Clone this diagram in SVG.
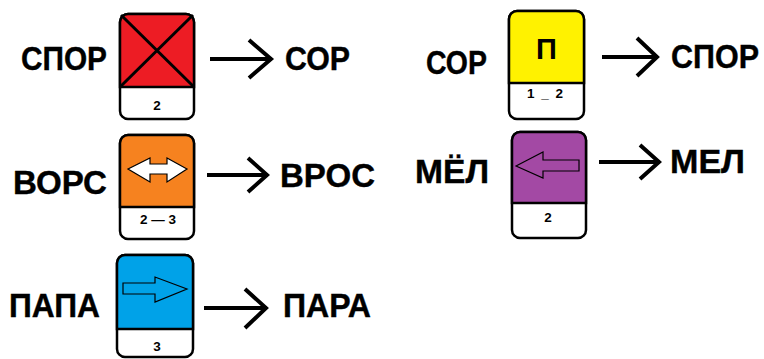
<svg xmlns="http://www.w3.org/2000/svg" width="764" height="359" viewBox="0 0 764 359">
<style>
  .w { font-family: "Liberation Sans", Arial, sans-serif; font-weight: bold; font-size: 33px; fill: #000; stroke: #000; stroke-width: 0.4; }
  .n { font-family: "Liberation Sans", Arial, sans-serif; font-weight: bold; font-size: 13.5px; fill: #000; text-anchor: middle; }
  .card { fill: #fff; stroke: #000; stroke-width: 2.5; }
  .sym { stroke: #000; stroke-width: 1.2; stroke-linejoin: miter; }
  .conn { fill: none; stroke: #000; stroke-width: 4; stroke-linejoin: miter; stroke-linecap: butt; }
</style>
<rect width="764" height="359" fill="#fff"/>

<g id="row1">
  <text class="w" x="21" y="70" textLength="86" lengthAdjust="spacingAndGlyphs">СПОР</text>
  <g id="card1">
    <rect class="card" x="120" y="14" width="74" height="105" rx="8"/>
    <path d="M120,87 V22 A8,8 0 0 1 128,14 H186 A8,8 0 0 1 194,22 V87 Z" fill="#ED1C24" stroke="#000" stroke-width="2.5"/>
    <line x1="121" y1="15" x2="193" y2="86" stroke="#000" stroke-width="3"/>
    <line x1="193" y1="15" x2="121" y2="86" stroke="#000" stroke-width="3"/>
    <text class="n" x="157" y="110">2</text>
  </g>
  <text class="w" x="285" y="70" textLength="65" lengthAdjust="spacingAndGlyphs">СОР</text>
</g>

<g id="row2">
  <text class="w" x="13" y="194" textLength="94" lengthAdjust="spacingAndGlyphs">ВОРС</text>
  <g id="card2">
    <rect class="card" x="120" y="135" width="74" height="104" rx="8"/>
    <path d="M120,207 V143 A8,8 0 0 1 128,135 H186 A8,8 0 0 1 194,143 V207 Z" fill="#F6821F" stroke="#000" stroke-width="2.5"/>
    <path class="sym" fill="#fff" d="M128,169 L150,158 L150,164 L167,164 L167,158 L187,169 L167,182 L167,174 L150,174 L150,182 Z"/>
    <text class="n" x="158" y="224">2 — 3</text>
  </g>
  <text class="w" x="280" y="187" textLength="95" lengthAdjust="spacingAndGlyphs">ВРОС</text>
</g>

<g id="row3">
  <text class="w" x="9" y="317" textLength="91" lengthAdjust="spacingAndGlyphs">ПАПА</text>
  <g id="card3">
    <rect class="card" x="117" y="255" width="76" height="102" rx="8"/>
    <path d="M117,329 V263 A8,8 0 0 1 125,255 H185 A8,8 0 0 1 193,263 V329 Z" fill="#00A2E8" stroke="#000" stroke-width="2.5"/>
    <path class="sym" fill="#00A2E8" d="M123,283 L155,283 L155,277 L187,289 L155,302 L155,294 L123,294 Z"/>
    <text class="n" x="157" y="351">3</text>
  </g>
  <text class="w" x="283" y="317" textLength="88" lengthAdjust="spacingAndGlyphs">ПАРА</text>
</g>

<g id="row4">
  <text class="w" x="426" y="74" textLength="61" lengthAdjust="spacingAndGlyphs">СОР</text>
  <g id="card4">
    <rect class="card" x="509" y="11" width="75" height="108" rx="8"/>
    <path d="M509,83 V19 A8,8 0 0 1 517,11 H576 A8,8 0 0 1 584,19 V83 Z" fill="#FFF200" stroke="#000" stroke-width="2.5"/>
    <text x="546.5" y="59" font-family="Liberation Sans, Arial, sans-serif" font-weight="bold" font-size="29" text-anchor="middle">П</text>
    <text class="n" x="545" y="98" textLength="36">1 _ 2</text>
  </g>
  <text class="w" x="671" y="68" textLength="88" lengthAdjust="spacingAndGlyphs">СПОР</text>
</g>

<g id="row5">
  <text class="w" x="415" y="183" textLength="74" lengthAdjust="spacingAndGlyphs">МЁЛ</text>
  <g id="card5">
    <rect class="card" x="512" y="132" width="74" height="106" rx="8"/>
    <path d="M512,203 V140 A8,8 0 0 1 520,132 H578 A8,8 0 0 1 586,140 V203 Z" fill="#A349A4" stroke="#000" stroke-width="2.5"/>
    <path class="sym" fill="#A349A4" d="M516,166 L543,152 L543,160 L579,160 L579,171 L543,171 L543,178 Z"/>
    <text class="n" x="548" y="222">2</text>
  </g>
  <text class="w" x="670" y="173" textLength="75" lengthAdjust="spacingAndGlyphs">МЕЛ</text>
</g>

<g id="connectors">
  <path class="conn" d="M210,59 H271 M249,40 L271,59 L249,78"/>
  <path class="conn" d="M207,175 H267 M248,158 L267,175 L248,192"/>
  <path class="conn" d="M204,308 H266 M245,289 L266,308 L245,328"/>
  <path class="conn" d="M602,57 H657 M637,38 L657,57 L637,76"/>
  <path class="conn" d="M599,162 H659 M640,145 L659,162 L640,179"/>
</g>
</svg>
